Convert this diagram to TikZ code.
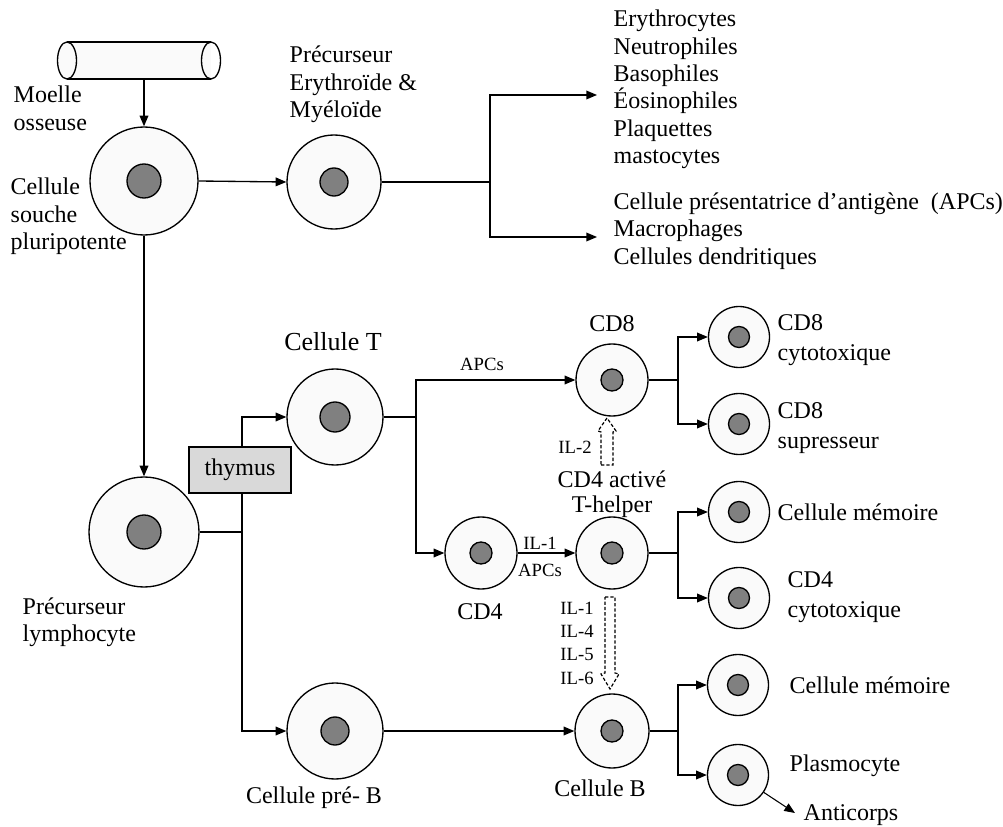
\documentclass[tikz,border=0pt]{standalone}
\usepackage{fontspec}
\setmainfont{Liberation Serif}
\usetikzlibrary{arrows.meta}
\definecolor{cellfill}{HTML}{FAFAFA}
\definecolor{nucfill}{HTML}{808080}
\definecolor{thymfill}{HTML}{D9D9D9}
\begin{document}
\begin{tikzpicture}[x=0.75pt,y=-0.75pt,line width=1pt,
  cell/.style={circle,draw,fill=cellfill,inner sep=0pt,minimum size=#1},
  nuc/.style={circle,draw,fill=nucfill,inner sep=0pt,minimum size=#1},
  arr/.style={-{Triangle[length=8pt,width=6.5pt]}},
  txt/.style={font=\fontsize{18}{20.6}\selectfont,inner sep=0pt},
  txtw/.style={font=\fontsize{18}{22.5}\selectfont,inner sep=0pt},
  small/.style={font=\fontsize{14}{17.5}\selectfont,inner sep=0pt},
  blockarrow/.style={draw,line width=0.9pt,dash pattern=on 2.5pt off 1.5pt,fill=white}]
\useasboundingbox (0,0) rectangle (1003,827);

% bone marrow cylinder
\fill[cellfill] (67,42) rectangle (211,79);
\draw (67,42) -- (211,42);
\draw (67,79) -- (211,79);
\draw[fill=cellfill] (67,60.5) ellipse [x radius=9.5, y radius=18.5];
\draw (211,60.5) ellipse [x radius=9.5, y radius=18.5];
\coordinate (cylb) at (144,79);

% cells
\node[cell=81pt] (stem) at (144,181) {};   \node[nuc=25.5pt] at (stem) {};
\node[cell=70.5pt] (prec) at (334,182) {}; \node[nuc=21pt] at (prec) {};
\node[cell=82.5pt] (lymph) at (144,532) {}; \node[nuc=25.5pt] at (lymph) {};
\node[cell=72pt] (T) at (335,417) {};      \node[nuc=22.5pt] at (T) {};
\node[cell=72pt] (preB) at (335,731) {};   \node[nuc=21pt] at (preB) {};
\node[cell=54pt] (CD8) at (612,380) {};    \node[nuc=16.5pt] at (CD8) {};
\node[cell=54pt] (CD4) at (481,553) {};    \node[nuc=16.5pt] at (CD4) {};
\node[cell=54pt] (Th) at (612,553) {};     \node[nuc=16.5pt] at (Th) {};
\node[cell=55.5pt] (B) at (612,731) {};    \node[nuc=16.5pt] at (B) {};
\node[cell=45.75pt] (CD8c) at (739,337) {}; \node[nuc=15.75pt] at (CD8c) {};
\node[cell=45.75pt] (CD8s) at (739,424) {}; \node[nuc=15.75pt] at (CD8s) {};
\node[cell=45.75pt] (memT) at (739,512) {}; \node[nuc=15.75pt] at (memT) {};
\node[cell=45.75pt] (CD4c) at (739,598) {}; \node[nuc=15.75pt] at (CD4c) {};
\node[cell=45.75pt] (memB) at (738,685) {}; \node[nuc=15.75pt] at (memB) {};
\node[cell=45.75pt] (plasmo) at (738,775) {}; \node[nuc=15.75pt] at (plasmo) {};

% junctions and free ends
\coordinate (j1) at (490,182);
\coordinate (t1) at (597,95);
\coordinate (t2) at (597,237);
\coordinate (j2) at (242,532);
\coordinate (j3) at (416,417);
\coordinate (j4) at (678,380);
\coordinate (j5) at (678,553);
\coordinate (j6) at (678,731);
\coordinate (ab) at (795,813);

% connectors
\draw[arr] (cylb) -- (stem.north);
\draw[arr] (stem.east) -- (prec.west);
\draw (prec.east) -- (j1);
\draw[arr] (j1) |- (t1);
\draw[arr] (j1) |- (t2);
\draw[arr] (stem.south) -- (lymph.north);
\draw (lymph.east) -- (j2);
\draw[arr] (j2) |- (T.west);
\draw[arr] (j2) |- (preB.west);
\draw (T.east) -- (j3);
\draw[arr] (j3) |- (CD8.west);
\draw[arr] (j3) |- (CD4.west);
\draw[arr] (CD4.east) -- (Th.west);
\draw[arr] (preB.east) -- (B.west);
\draw (CD8.east) -- (j4);
\draw[arr] (j4) |- (CD8c.west);
\draw[arr] (j4) |- (CD8s.west);
\draw (Th.east) -- (j5);
\draw[arr] (j5) |- (memT.west);
\draw[arr] (j5) |- (CD4c.west);
\draw (B.east) -- (j6);
\draw[arr] (j6) |- (memB.west);
\draw[arr] (j6) |- (plasmo.west);
\draw[arr,line width=0.8pt] (plasmo.-34) -- (ab);

% thymus box
\node[draw,fill=thymfill,minimum width=76.5pt,minimum height=34.5pt,inner sep=0pt,
      font=\fontsize{18}{20.6}\selectfont] (thymus) at (240,470) {thymus};

% dashed block arrows
\draw[blockarrow] (601,465) -- (613,465) -- (613,432) -- (616,431) -- (607,418)
   -- (598,431) -- (601,432) -- cycle;
\draw[blockarrow] (605,597) -- (615,597) -- (615,673) -- (619,674) -- (610,689)
   -- (601,674) -- (605,673) -- cycle;

% texts
\node[txt,anchor=west,align=left] (tmoelle) at (13,108.5) {Moelle\\osseuse};
\node[txt,anchor=west,align=left] (tstem) at (10,216.5) {Cellule\\souche\\pluripotente};
\node[txt,anchor=west,align=left] (tprec) at (289,84.5) {Précurseur\\Erythroïde \&\\Myéloïde};
\node[txt,anchor=west,align=left] (tlist1) at (613,89.5)
  {Erythrocytes\\Neutrophiles\\Basophiles\\Éosinophiles\\Plaquettes\\mastocytes};
\node[txt,anchor=west,align=left] (tlist2) at (613,231)
  {Cellule présentatrice d’antigène\ \ (APCs)\\Macrophages\\Cellules dendritiques};
\node[txt,anchor=west,align=left] (tlymph) at (22,622) {Précurseur\\lymphocyte};
\node[inner sep=0pt,font=\fontsize{19.5}{22}\selectfont] (tT) at (333,342) {Cellule T};
\node[txt] (tCD8) at (612,324) {CD8};
\node[small] (tapc1) at (482,364) {APCs};
\node[small] (til2) at (575,447) {IL-2};
\node[inner sep=0pt,font=\fontsize{18}{18.75}\selectfont,align=center] (tTh) at (612,494.5) {CD4 activé\\T-helper};
\node[small] (til1) at (540,543) {IL-1};
\node[small] (tapc2) at (540,570) {APCs};
\node[txt] (tCD4) at (480,612) {CD4};
\node[small,align=center] (tils) at (577,643) {IL-1\\IL-4\\IL-5\\IL-6};
\node[txt] (tpreB) at (314,798) {Cellule pré- B};
\node[txt] (tB) at (600,788) {Cellule B};
\node[txtw,anchor=west,align=left] (tCD8c) at (777,340) {CD8\\cytotoxique};
\node[txtw,anchor=west,align=left] (tCD8s) at (777,428) {CD8\\supresseur};
\node[txt,anchor=west] (tmemT) at (777,512) {Cellule mémoire};
\node[txtw,anchor=west,align=left] (tCD4c) at (787,597) {CD4\\cytotoxique};
\node[txt,anchor=west] (tmemB) at (789,685) {Cellule mémoire};
\node[txt,anchor=west] (tplasmo) at (789,766) {Plasmocyte};
\node[txt,anchor=west] (tanti) at (803,815) {Anticorps};
\end{tikzpicture}
\end{document}
